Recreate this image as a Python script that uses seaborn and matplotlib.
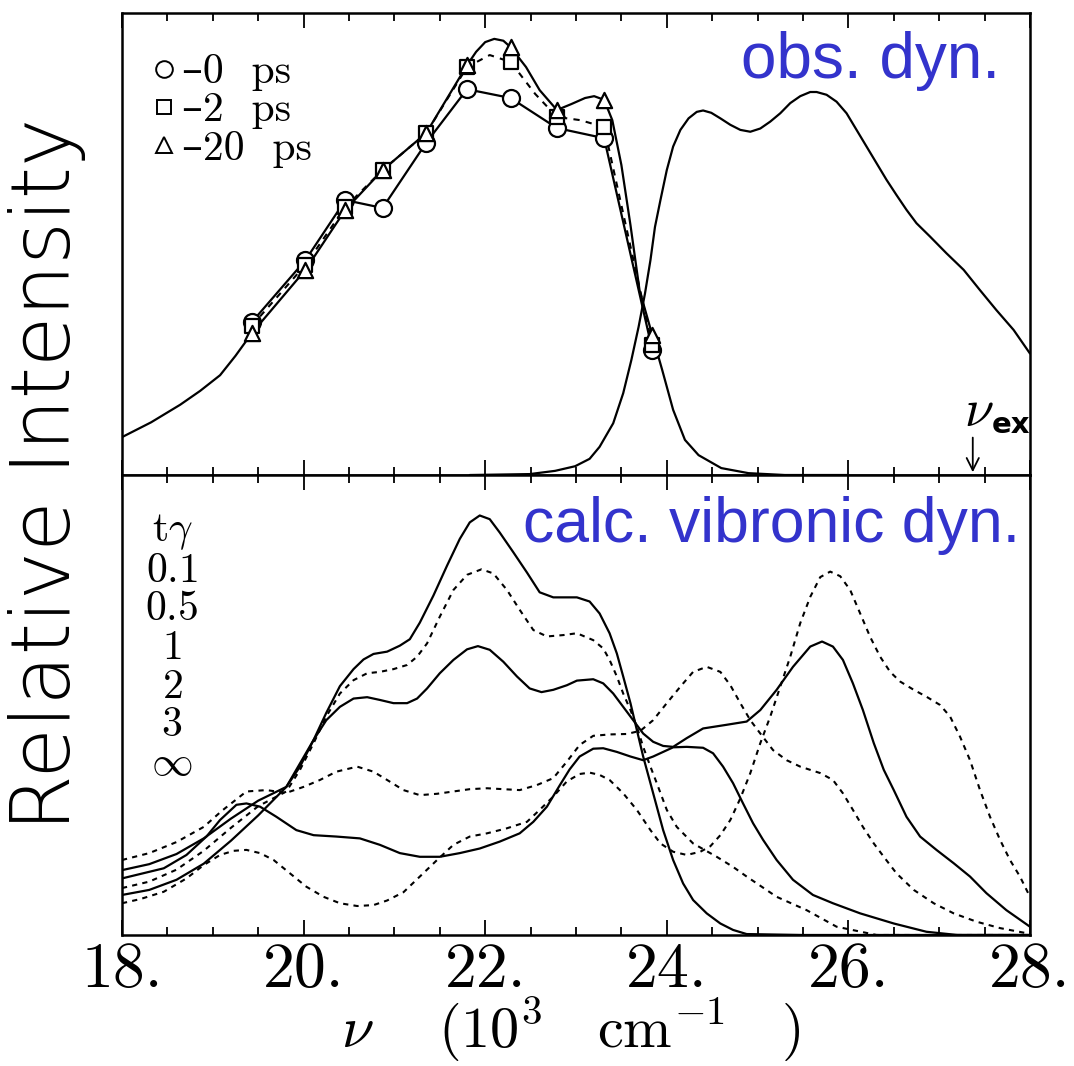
import matplotlib
matplotlib.use('Agg')
import matplotlib.pyplot as plt
import seaborn as sns
from matplotlib.lines import Line2D
from matplotlib.ticker import MultipleLocator

# ---------------- top panel: observed dynamics ----------------
# absorption band (right)
abs_v = [21.83, 22.49, 22.77, 22.99, 23.15, 23.26, 23.41, 23.52, 23.61, 23.69, 23.76, 23.82,
         23.87, 23.93, 24.00, 24.07, 24.15, 24.24, 24.33, 24.40, 24.49, 24.59, 24.70, 24.81,
         24.92, 25.03, 25.14, 25.25, 25.36, 25.47, 25.58, 25.65, 25.76, 25.87, 25.98, 26.09,
         26.20, 26.31, 26.42, 26.53, 26.64, 26.75, 26.90, 27.08, 27.27, 27.45, 27.63, 27.82, 28.0]
abs_y = [0.0, 0.2, 0.9, 1.9, 3.5, 6.1, 11.2, 17.7, 24.9, 32.1, 39.3, 46.5,
         53.7, 59.5, 66.0, 71.1, 74.7, 77.2, 78.6, 78.9, 78.4, 77.2, 75.8, 74.7,
         74.3, 75.0, 76.5, 78.3, 80.5, 82.0, 82.9, 82.9, 82.3, 80.8, 78.3, 74.7,
         71.1, 67.5, 63.9, 60.6, 57.4, 54.5, 51.6, 48.0, 44.4, 40.0, 35.7, 31.4, 26.3]

# measured emission points
pts_v = [19.43, 20.02, 20.46, 20.87, 21.35, 21.80, 22.28, 22.79, 23.31, 23.84]
pts_0ps = [33.1, 46.5, 59.5, 57.8, 71.9, 83.5, 81.6, 75.1, 72.9, 27.1]
pts_2ps = [32.3, 45.5, 58.0, 66.0, 74.0, 88.3, 89.4, 77.5, 75.3, 28.1]
pts_20ps = [30.7, 44.4, 57.4, 66.0, 74.0, 88.7, 92.6, 79.0, 81.2, 30.3]

# smooth 20 ps emission curve (with low-energy tail and high-energy fall-off)
em20_v = [18.0, 18.32, 18.64, 18.86, 19.08, 19.25, 19.43, 20.02, 20.46, 20.87, 21.35, 21.80,
          21.90, 22.00, 22.10, 22.20, 22.28, 22.45, 22.60, 22.79, 22.95, 23.10, 23.20, 23.31,
          23.40, 23.50, 23.60, 23.70, 23.84, 23.95, 24.07, 24.20, 24.35, 24.60, 24.90, 25.30, 26.0]
em20_y = [8.2, 11.4, 15.2, 18.2, 21.6, 25.8, 30.7, 44.4, 57.4, 66.0, 74.0, 88.7,
          91.6, 93.7, 94.4, 94.0, 92.6, 88.3, 83.3, 79.0, 80.3, 81.6, 82.0, 81.2,
          76.8, 67.1, 54.1, 40.0, 30.3, 22.7, 14.1, 7.6, 4.3, 1.5, 0.4, 0.0, 0.0]

# dashed 2 ps emission curve
em2_v = [19.43, 20.02, 20.46, 20.87, 21.35, 21.80, 22.05, 22.28, 22.55, 22.79, 23.05, 23.31, 23.84]
em2_y = [32.3, 45.5, 58.0, 66.0, 74.0, 88.3, 90.9, 89.4, 82.5, 77.5, 76.8, 75.3, 28.1]

legend_labels = ['\u20130  ps', '\u20132  ps', '\u201320  ps']

# ---------------- bottom panel: calculated vibronic dynamics ----------------
A_v = [18.0, 18.3, 18.6, 18.9, 19.2, 19.5, 19.81, 19.96, 20.11, 20.25, 20.40, 20.55, 20.66,
       20.77, 20.92, 21.06, 21.17, 21.28, 21.43, 21.58, 21.72, 21.83, 21.94, 22.05, 22.16,
       22.31, 22.46, 22.60, 22.75, 22.90, 23.01, 23.15, 23.26, 23.37, 23.45, 23.52, 23.60,
       23.67, 23.74, 23.82, 23.89, 23.96, 24.07, 24.18, 24.29, 24.44, 24.59, 24.73, 24.88,
       25.5, 28.0]
A_y = [8.7, 9.8, 12.0, 15.5, 20.5, 26.0, 32.2, 36.6, 42.4, 48.3, 54.1, 57.8, 59.9,
       61.1, 61.6, 62.9, 64.3, 67.9, 73.8, 80.3, 86.1, 89.7, 91.2, 90.4, 87.5,
       83.2, 78.8, 74.5, 73.4, 73.4, 73.4, 72.5, 69.9, 65.6, 61.2, 56.2, 50.4,
       44.6, 38.8, 33.0, 27.9, 22.8, 16.3, 11.2, 7.6, 4.7, 2.5, 1.1, 0.2,
       0.0, 0.0]

B_v = [18.0, 18.3, 18.6, 18.9, 19.2, 19.5, 19.81, 19.96, 20.11, 20.25, 20.40, 20.55, 20.70,
       20.84, 20.99, 21.14, 21.25, 21.36, 21.50, 21.65, 21.80, 21.96, 22.09, 22.24, 22.38,
       22.53, 22.68, 22.86, 23.01, 23.19, 23.30, 23.37, 23.45, 23.52, 23.60, 23.67, 23.74,
       23.82, 23.89, 24.00, 24.11, 24.29, 24.55, 24.73, 24.88, 25.21, 25.54, 25.87, 26.31, 28.0]
B_y = [10.2, 11.6, 14.2, 18.3, 23.3, 28.0, 31.2, 35.9, 41.7, 47.5, 52.5, 55.4, 56.9,
       57.2, 57.8, 58.7, 60.5, 63.4, 69.2, 75.0, 78.3, 79.5, 78.6, 75.0, 70.7,
       66.3, 64.9, 65.2, 65.6, 64.1, 62.3, 59.8, 56.2, 52.5, 48.9, 45.3, 40.9,
       36.6, 33.0, 27.2, 23.5, 19.9, 17.0, 14.8, 12.7, 8.3, 5.4, 1.8, 0.0, 0.0]

C_v = [18.0, 18.3, 18.6, 18.9, 19.2, 19.5, 19.81, 19.96, 20.11, 20.25, 20.40, 20.55, 20.70,
       20.84, 20.99, 21.14, 21.25, 21.36, 21.50, 21.65, 21.80, 21.92, 22.05, 22.20, 22.35,
       22.49, 22.62, 22.75, 22.90, 23.01, 23.19, 23.30, 23.41, 23.52, 23.63, 23.74, 23.85,
       23.96, 24.07, 24.22, 24.40, 24.66, 24.88, 25.03, 25.21, 25.39, 25.58, 25.71, 25.83,
       25.94, 26.05, 26.16, 26.28, 26.39, 26.50, 26.64, 26.79, 26.97, 27.16, 27.34, 27.52,
       27.74, 28.0]
C_y = [14.1, 15.4, 17.6, 21.0, 25.3, 29.2, 32.2, 37.3, 42.4, 46.7, 49.6, 51.4, 51.7,
       51.1, 50.4, 50.4, 51.4, 53.6, 56.9, 59.8, 62.1, 62.8, 62.0, 59.4, 56.2,
       53.6, 52.8, 53.3, 54.3, 55.3, 55.6, 54.7, 52.5, 49.6, 46.7, 43.8, 42.0,
       41.1, 40.9, 42.8, 44.9, 45.7, 46.4, 48.9, 53.3, 58.3, 62.7, 63.8, 62.7,
       59.8, 54.7, 48.9, 41.7, 35.9, 31.5, 25.7, 21.4, 18.5, 15.6, 12.7, 9.1,
       5.4, 1.8]

D_v = [18.0, 18.3, 18.6, 18.9, 19.1, 19.37, 19.59, 19.81, 20.00, 20.18, 20.36, 20.59, 20.77,
       20.92, 21.10, 21.28, 21.47, 21.65, 21.83, 22.02, 22.20, 22.38, 22.57, 22.75, 22.90,
       23.04, 23.19, 23.37, 23.56, 23.71, 23.85, 24.00, 24.15, 24.29, 24.44, 24.59, 24.70,
       24.81, 24.92, 25.03, 25.17, 25.32, 25.47, 25.69, 25.83, 25.94, 26.05, 26.16, 26.28,
       26.39, 26.53, 26.72, 26.94, 27.16, 27.41, 27.67, 27.96]
D_y = [16.3, 17.8, 20.2, 23.5, 27.0, 31.2, 31.5, 30.9, 32.2, 33.7, 35.5, 36.6, 35.5,
       33.7, 31.5, 30.4, 30.7, 31.2, 31.7, 31.9, 31.7, 31.5, 32.6, 34.1, 37.7,
       41.3, 43.3, 43.6, 43.7, 44.4, 46.7, 50.4, 54.0, 57.2, 58.3, 57.2, 54.3,
       50.4, 46.7, 43.8, 40.2, 38.0, 36.6, 35.2, 33.7, 30.8, 27.2, 23.5, 19.9,
       17.0, 13.4, 9.8, 6.9, 4.7, 2.9, 1.5, 0.4]

E_v = [18.0, 18.46, 18.71, 18.93, 19.08, 19.26, 19.37, 19.52, 19.70, 19.92, 20.11, 20.36,
       20.62, 20.84, 21.06, 21.28, 21.50, 21.72, 21.94, 22.16, 22.38, 22.53, 22.68, 22.82,
       22.93, 23.04, 23.19, 23.30, 23.45, 23.60, 23.74, 23.85, 23.96, 24.07, 24.22, 24.40,
       24.51, 24.62, 24.73, 24.84, 24.95, 25.06, 25.21, 25.39, 25.61, 25.83, 26.13, 26.50,
       26.86, 27.2, 28.0]
E_y = [12.3, 14.5, 17.4, 21.4, 25.0, 28.3, 28.6, 27.9, 25.7, 22.8, 21.7, 21.4,
       21.0, 19.6, 17.8, 17.0, 17.0, 17.8, 18.8, 20.3, 22.1, 24.6, 27.9, 32.5,
       36.0, 38.8, 40.5, 40.6, 39.8, 38.8, 38.0, 38.8, 39.8, 40.8, 40.9, 40.7,
       39.5, 36.6, 33.0, 28.6, 24.3, 20.7, 16.3, 12.0, 8.7, 6.9, 4.7, 2.5,
       0.7, 0.0, 0.0]

F_v = [18.0, 18.20, 18.46, 18.71, 18.90, 19.08, 19.23, 19.37, 19.52, 19.67, 19.85, 20.03,
       20.22, 20.40, 20.59, 20.77, 20.92, 21.10, 21.28, 21.47, 21.65, 21.83, 22.02, 22.24,
       22.46, 22.60, 22.75, 22.90, 23.04, 23.15, 23.26, 23.37, 23.52, 23.67, 23.82, 23.93,
       24.07, 24.22, 24.37, 24.48, 24.59, 24.70, 24.81, 24.92, 25.03, 25.14, 25.25, 25.36,
       25.47, 25.58, 25.69, 25.80, 25.91, 26.02, 26.13, 26.24, 26.35, 26.46, 26.57, 26.72,
       26.86, 27.01, 27.12, 27.23, 27.34, 27.45, 27.56, 27.67, 27.78, 27.89, 27.98]
F_y = [6.9, 7.8, 9.4, 12.3, 15.2, 17.4, 18.3, 18.5, 17.8, 16.3, 13.4, 10.5,
       8.3, 6.9, 6.3, 6.5, 7.5, 9.3, 12.7, 16.3, 19.6, 21.4, 22.1, 23.2,
       24.6, 27.2, 30.1, 33.4, 35.0, 35.3, 34.8, 33.7, 30.8, 27.2, 22.8, 19.9,
       18.1, 17.4, 18.1, 19.3, 21.7, 25.0, 29.7, 35.2, 41.7, 47.5, 54.0, 60.5,
       67.8, 73.5, 77.8, 79.0, 78.0, 75.0, 69.9, 64.8, 60.5, 57.2, 55.1, 53.3,
       51.8, 50.0, 47.5, 43.1, 38.0, 31.5, 25.7, 20.7, 16.3, 12.7, 9.1]

calc_curves = [(A_v, A_y, 'solid'), (B_v, B_y, 'dashed'), (C_v, C_y, 'solid'),
               (D_v, D_y, 'dashed'), (E_v, E_y, 'solid'), (F_v, F_y, 'dashed')]
tgamma_labels = [r'$\mathrm{t}\gamma$', r'$0.1$', r'$0.5$', r'$1$', r'$2$', r'$3$', r'$\infty$']

tick_vals = [18, 20, 22, 24, 26, 28]
tick_labels = ['18.', '20.', '22.', '24.', '26.', '28.']

BLUE = '#3333cc'
DASH = (0, (2.5, 2.5))


def style_axis(ax):
    ax.set_xlim(18, 28)
    ax.set_ylim(0, 100)
    ax.set_yticks([])
    ax.set_ylabel('')
    ax.set_xlabel('')
    ax.xaxis.set_major_locator(MultipleLocator(2))
    ax.xaxis.set_minor_locator(MultipleLocator(0.5))
    ax.tick_params(axis='x', which='both', direction='in', top=True, bottom=True,
                   color='black', width=1.3, labelcolor='black')
    ax.tick_params(axis='x', which='major', length=11)
    ax.tick_params(axis='x', which='minor', length=6)
    for sp in ax.spines.values():
        sp.set_visible(True)
        sp.set_color('black')
        sp.set_linewidth(1.8)


sns.set_theme(style='white')
plt.rcParams['mathtext.fontset'] = 'cm'
plt.rcParams['font.family'] = ['DejaVu Sans']
plt.rcParams['text.color'] = 'black'

fig = plt.figure(figsize=(10.74, 10.66), dpi=100)
ax_top = fig.add_axes([0.1136, 0.5544, 0.8454, 0.4334])
ax_bot = fig.add_axes([0.1136, 0.1229, 0.8454, 0.4315])

# ---- top panel ----
sns.lineplot(x=abs_v, y=abs_y, ax=ax_top, color='black', lw=1.6, sort=False, estimator=None)
sns.lineplot(x=em20_v, y=em20_y, ax=ax_top, color='black', lw=1.6, sort=False, estimator=None)
sns.lineplot(x=em2_v, y=em2_y, ax=ax_top, color='black', lw=1.5, sort=False, estimator=None,
             linestyle=(0, (3, 3)))
sns.lineplot(x=pts_v, y=pts_0ps, ax=ax_top, color='black', lw=1.6, sort=False, estimator=None)
sns.scatterplot(x=pts_v, y=pts_0ps, ax=ax_top, marker='o', s=150, color='white',
                edgecolor='black', linewidth=1.6, zorder=4)
sns.scatterplot(x=pts_v, y=pts_2ps, ax=ax_top, marker='s', s=95, color='white',
                edgecolor='black', linewidth=1.6, zorder=4)
sns.scatterplot(x=pts_v, y=pts_20ps, ax=ax_top, marker='^', s=120, color='white',
                edgecolor='black', linewidth=1.6, zorder=4)
style_axis(ax_top)
ax_top.tick_params(labelbottom=False)

handles = [Line2D([], [], ls='none', marker=m, ms=ms, mfc='white', mec='black', mew=1.4)
           for m, ms in [('o', 12), ('s', 10), ('^', 11)]]
ax_top.legend(handles, legend_labels, loc='upper left', bbox_to_anchor=(0.0, 0.975),
              frameon=False, handlelength=0.6, handletextpad=0.15, labelspacing=0.02,
              borderpad=0.2, prop={'family': ['cmr10', 'DejaVu Serif'], 'size': 30})

ax_top.text(0.967, 0.859, 'obs. dyn.', transform=ax_top.transAxes, ha='right', va='baseline',
            color=BLUE, fontsize=46, family='Liberation Sans')
ax_top.text(0.944, 0.139, r'$\nu$', transform=ax_top.transAxes, ha='center', va='center',
            fontsize=38)
ax_top.text(0.958, 0.108, 'ex', transform=ax_top.transAxes, ha='left', va='center',
            fontsize=21, fontweight='bold', family='DejaVu Sans')
ax_top.annotate('', xy=(27.37, 0.0), xytext=(27.37, 8.7),
                arrowprops=dict(arrowstyle='->', color='black', lw=1.3, mutation_scale=22))

# ---- bottom panel ----
for v, y, ls in calc_curves:
    sns.lineplot(x=v, y=y, ax=ax_bot, color='black', lw=1.6 if ls == 'solid' else 1.5,
                 sort=False, estimator=None, linestyle='-' if ls == 'solid' else DASH)
style_axis(ax_bot)
ax_bot.set_xticks(tick_vals)
ax_bot.set_xticklabels(tick_labels, fontfamily='cmr10', fontsize=46)
ax_bot.tick_params(axis='x', which='major', pad=5)

for i, lab in enumerate(tgamma_labels):
    ax_bot.text(0.055, 0.878 - i * 0.084, lab, transform=ax_bot.transAxes, ha='center',
                va='center', fontsize=30)

ax_bot.text(0.989, 0.854, 'calc. vibronic dyn.', transform=ax_bot.transAxes, ha='right',
            va='baseline', color=BLUE, fontsize=45, family='Liberation Sans')

fig.text(0.531, 0.003, r'$\nu\ \ \ \ (10^3\ \ \ \mathrm{cm}^{-1}\ \ \ )$', ha='center',
         va='bottom', fontsize=42)
fig.text(0.044, 0.555, 'Relative Intensity', rotation=90, ha='center', va='center',
         fontsize=59, family='DejaVu Sans', fontweight='light')

fig.savefig('out.png', dpi=100, facecolor='white')
plt.close(fig)
